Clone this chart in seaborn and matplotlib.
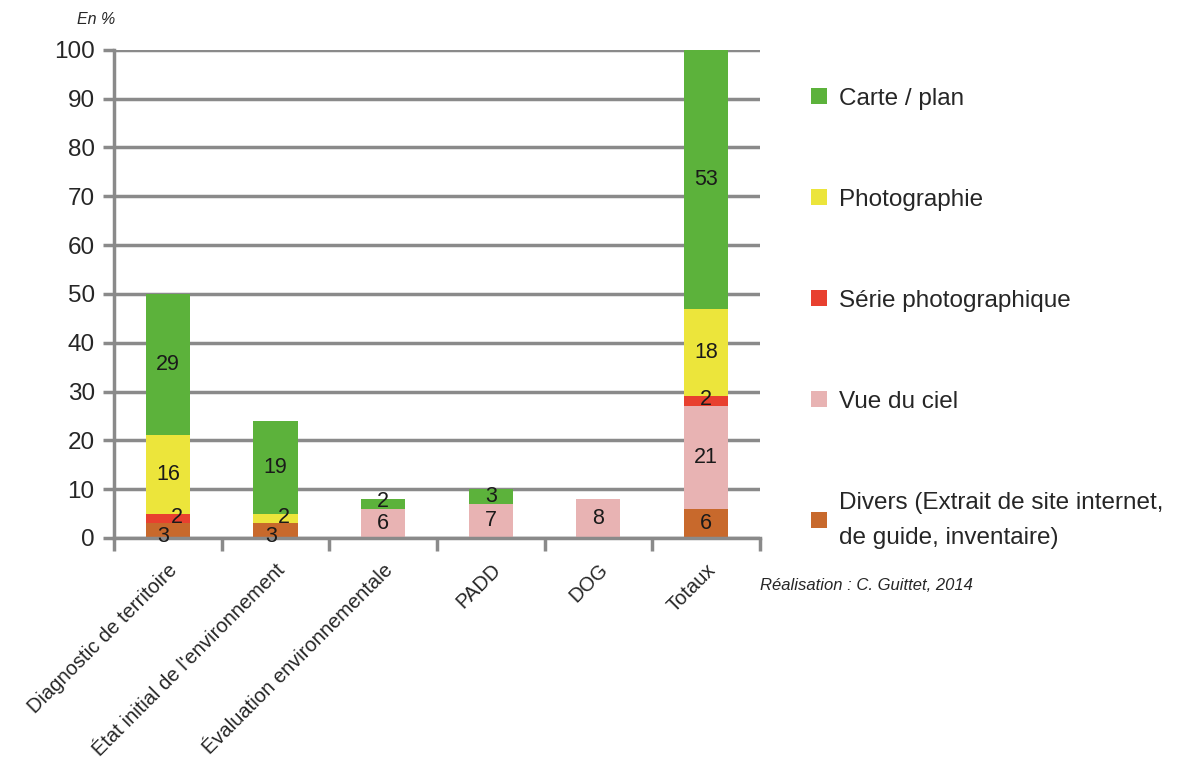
import numpy as np
import pandas as pd
import matplotlib.pyplot as plt
import seaborn as sns
from matplotlib.patches import Patch

categories = ["Diagnostic de territoire", "État initial de l'environnement",
              "Évaluation environnementale", "PADD", "DOG", "Totaux"]
series = ["Divers (Extrait de site internet,\nde guide, inventaire)", "Vue du ciel",
          "Série photographique", "Photographie", "Carte / plan"]
divers = [3, 3, 0, 0, 0, 6]
vue_ciel = [0, 0, 6, 7, 8, 21]
serie_photo = [2, 0, 0, 0, 0, 2]
photographie = [16, 2, 0, 0, 0, 18]
carte_plan = [29, 19, 2, 3, 0, 53]
colors = ["#c8692c", "#e8b3b3", "#e8402f", "#ece53b", "#5cb23b"]

sns.set_theme(style="white")
plt.rcParams['font.family'] = ['Liberation Sans', 'DejaVu Sans']

df = pd.DataFrame({"categorie": categories, series[0]: divers, series[1]: vue_ciel,
                   series[2]: serie_photo, series[3]: photographie, series[4]: carte_plan})
values = df[series].to_numpy()
cum = values.cumsum(axis=1)

fig = plt.figure(figsize=(11.89, 7.67), dpi=100)
ax = fig.add_axes([0.096, 0.2986, 0.543, 0.6364])

grey = "#8a8a8a"
ax.set_axisbelow(True)
ax.yaxis.grid(True, color=grey, linewidth=2.5)

# stacked bars: draw cumulative totals from top to bottom
for i in range(len(series) - 1, -1, -1):
    tmp = pd.DataFrame({"categorie": categories, "cum": cum[:, i]})
    sns.barplot(data=tmp, x="categorie", y="cum", order=categories, color=colors[i],
                width=0.41, saturation=1, linewidth=0, ax=ax)

# value labels
for j in range(len(categories)):
    for i in range(len(series)):
        v = values[j, i]
        if v == 0:
            continue
        x = j
        y = cum[j, i] - v / 2
        if j < 2 and v <= 3:
            if i == 0:
                x, y = j - 0.04, 0.2
            else:
                x, y = j + 0.08, cum[j, i] - 0.9
        elif v <= 2 and i > 0:
            y += 0.4
        ax.text(x, y, str(v), ha="center", va="center", fontsize=15.5, color="#1a1a1a")

ax.set_xlim(-0.5, 5.5)
ax.set_ylim(0, 100)
ax.set_yticks(range(0, 101, 10))
ax.set_xlabel("")
ax.set_ylabel("")
ax.tick_params(axis="y", labelsize=17.5, length=8, width=2.5, color=grey, direction="out", left=True, pad=6)
ax.set_xticks(range(len(categories)))
ax.set_xticklabels(categories, rotation=45, ha="right", rotation_mode="anchor", fontsize=14.5)
ax.tick_params(axis="x", which="major", length=0, pad=16)
ax.set_xticks(np.arange(-0.5, 6, 1), minor=True)
ax.tick_params(axis="x", which="minor", length=9, width=2.5, color=grey, direction="out", bottom=True)
for s in ["top", "right"]:
    ax.spines[s].set_visible(False)
for s in ["left", "bottom"]:
    ax.spines[s].set_color(grey)
    ax.spines[s].set_linewidth(2.5)

handles = [Patch(facecolor=colors[i], edgecolor="none", label=series[i]) for i in range(len(series) - 1, -1, -1)]
leg = fig.legend(handles=handles, loc="upper left", bbox_to_anchor=(0.664, 0.914), frameon=False,
                 fontsize=17.5, handlelength=0.65, handleheight=0.65, handletextpad=0.5, labelspacing=3.25)
for t in leg.get_texts():
    t.set_linespacing(1.75)

fig.text(0.081, 0.974, "En %", fontsize=11.5, style="italic", ha="center", va="center")
fig.text(0.639, 0.237, "Réalisation : C. Guittet, 2014", fontsize=12, style="italic", ha="left", va="center")

fig.savefig("out.png", dpi=100)
